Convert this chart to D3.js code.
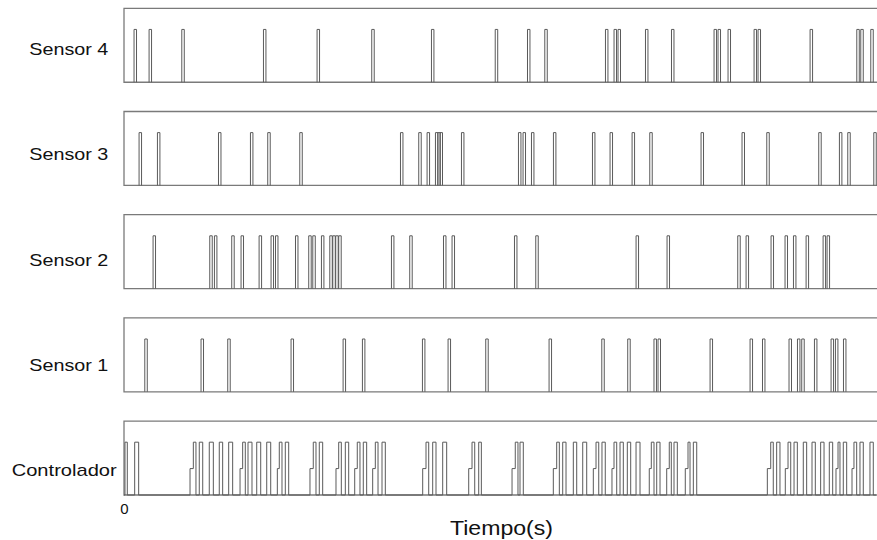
<!DOCTYPE html>
<html><head><meta charset="utf-8">
<script src="https://cdn.jsdelivr.net/npm/d3@7"></script>
<style>body{margin:0;background:#fff;overflow:hidden}</style>
</head><body>
<svg id="chart" width="877" height="540"></svg>
<script>
// ---- data (time in s) ----
const panelNames = ["Sensor 4", "Sensor 3", "Sensor 2", "Sensor 1", "Controlador"];
const sensor4 = [0.150,0.350,0.785,1.871,2.584,3.311,4.105,4.953,5.382,5.612,6.419,6.533,6.586,6.951,7.297,7.863,7.916,8.049,8.395,8.448,9.140,9.761,9.814,9.947];
const sensor3 = [0.217,0.461,1.273,1.698,1.928,2.354,3.693,3.936,4.047,4.158,4.189,4.219,4.504,5.262,5.323,5.435,5.727,6.246,6.480,6.773,7.008,7.690,8.235,8.564,9.255,9.530,9.641,9.987];
const sensor2 = [0.403,1.157,1.219,1.449,1.573,1.813,1.972,2.031,2.297,2.473,2.527,2.642,2.753,2.793,2.832,2.872,3.573,3.816,4.265,4.379,5.209,5.492,6.826,7.238,8.178,8.289,8.621,8.807,8.919,9.087,9.313,9.366];
const sensor1 = [0.293,1.041,1.396,2.238,2.930,3.187,3.985,4.326,4.827,5.669,6.370,6.715,7.064,7.118,7.810,8.342,8.507,8.860,8.972,9.029,9.198,9.419,9.477,9.584];
const sensorPulseWidth = 0.033;
// controller segments: [start, end, level]
const controller = [
  [0.013,0.044,1],[0.142,0.195,1],
  [0.878,0.922,0.5],[0.922,0.957,1],[1.001,1.047,1],[1.134,1.188,1],[1.267,1.312,1],[1.392,1.445,1],
  [1.543,1.578,0.5],[1.578,1.613,1],[1.649,1.702,1],[1.765,1.818,1],[1.898,1.951,1],
  [2.039,2.065,0.5],[2.065,2.101,1],[2.145,2.190,1],
  [2.473,2.517,0.5],[2.517,2.553,1],[2.597,2.642,1],
  [2.819,2.855,0.5],[2.855,2.890,1],[2.943,2.988,1],
  [3.068,3.102,0.5],[3.102,3.138,1],[3.182,3.227,1],
  [3.307,3.342,0.5],[3.342,3.378,1],[3.431,3.475,1],
  [3.972,4.016,0.5],[4.016,4.052,1],[4.105,4.149,1],[4.238,4.291,1],
  [4.584,4.628,0.5],[4.628,4.664,1],[4.717,4.752,1],
  [5.160,5.203,0.5],[5.203,5.239,1],[5.266,5.310,1],
  [5.709,5.754,0.5],[5.754,5.789,1],[5.834,5.878,1],[5.975,6.020,1],[6.100,6.153,1],
  [6.241,6.277,0.5],[6.277,6.313,1],[6.356,6.400,1],
  [6.489,6.516,0.5],[6.516,6.552,1],[6.596,6.640,1],[6.693,6.738,1],[6.809,6.862,1],
  [6.985,7.012,0.5],[7.012,7.048,1],[7.084,7.128,1],
  [7.217,7.251,0.5],[7.251,7.278,1],[7.314,7.358,1],
  [7.464,7.500,0.5],[7.500,7.527,1],[7.571,7.616,1],
  [8.555,8.600,0.5],[8.600,8.634,1],[8.679,8.723,1],
  [8.794,8.830,0.5],[8.830,8.866,1],[8.910,8.954,1],[9.033,9.078,1],[9.149,9.193,1],[9.264,9.309,1],[9.379,9.424,1],
  [9.468,9.495,0.5],[9.495,9.521,1],[9.565,9.610,1],
  [9.681,9.707,0.5],[9.707,9.743,1],[9.787,9.831,1],[9.920,9.964,1]
];
const xDomain = [0, 10];
const xTickLabels = ["0"];
const xTitle = "Tiempo(s)";

// ---- layout ----
const svg = d3.select("#chart");
const font = "Liberation Sans, Arial, sans-serif";
const x = d3.scaleLinear().domain(xDomain).range([124, 876]);
const band = d3.scaleBand().domain(panelNames).range([8.3, 495]).paddingInner(0.2833).paddingOuter(0);
const y = d3.scaleLinear().domain([0, 1.4]).range([band.bandwidth(), 0]);
const labelY = d3.scalePoint().domain(panelNames).range([55, 476]);

const lineColor = "#5a5a5a";
const frameColor = "#7a7a7a";

function sensorPath(times) {
  const p = d3.path();
  times.forEach(t => {
    p.moveTo(x(t - sensorPulseWidth/2), y(0));
    p.lineTo(x(t - sensorPulseWidth/2), y(1));
    p.lineTo(x(t + sensorPulseWidth/2), y(1));
    p.lineTo(x(t + sensorPulseWidth/2), y(0));
  });
  return p.toString();
}
function controllerPoints(segs) {
  const pts = [[xDomain[0], 0]];
  let cur = 0;
  segs.forEach(([a, b, lv], i) => {
    const nxt = segs[i+1];
    pts.push([a, cur], [a, lv], [b, lv]);
    if (nxt && Math.abs(nxt[0] - b) < 1e-6) cur = lv;
    else { pts.push([b, 0]); cur = 0; }
  });
  pts.push([xDomain[1], 0]);
  return pts;
}

const series = {"Sensor 4": sensor4, "Sensor 3": sensor3, "Sensor 2": sensor2, "Sensor 1": sensor1};

panelNames.forEach(name => {
  const g = svg.append("g").attr("transform", `translate(0,${band(name)})`);
  g.append("path")
    .attr("d", `M${x(xDomain[1])+2},${y(1.4)}H${x(0)}V${y(0)}H${x(xDomain[1])+2}`)
    .attr("fill", "none").attr("stroke", frameColor).attr("stroke-width", 1.3);
  if (series[name]) {
    g.append("path").attr("d", sensorPath(series[name]))
      .attr("fill", "none").attr("stroke", lineColor).attr("stroke-width", 1);
  } else {
    const line = d3.line().x(d => x(d[0])).y(d => y(d[1]));
    g.append("path").attr("d", line(controllerPoints(controller)))
      .attr("fill", "none").attr("stroke", lineColor).attr("stroke-width", 1);
  }
});

// panel labels
const isCtrl = n => n === "Controlador";
svg.append("g").selectAll("text").data(panelNames).join("text")
  .attr("x", d => isCtrl(d) ? 11.7 : 29.3)
  .attr("y", d => labelY(d))
  .attr("text-anchor", "start")
  .attr("font-family", font)
  .attr("font-size", 17)
  .attr("fill", "#111")
  .attr("textLength", d => isCtrl(d) ? 105 : 79)
  .attr("lengthAdjust", "spacingAndGlyphs")
  .text(d => d);

// x axis labels
svg.append("g").selectAll("text").data(xTickLabels).join("text")
  .attr("x", d => x(+d) + 0.5).attr("y", 514)
  .attr("text-anchor", "middle")
  .attr("font-family", font)
  .attr("font-size", 15).attr("fill", "#111")
  .text(d => d);
svg.append("text")
  .attr("x", 450).attr("y", 535)
  .attr("text-anchor", "start")
  .attr("font-family", font)
  .attr("font-size", 19.5).attr("fill", "#111")
  .attr("textLength", 103).attr("lengthAdjust", "spacingAndGlyphs")
  .text(xTitle);
</script>
</body></html>
